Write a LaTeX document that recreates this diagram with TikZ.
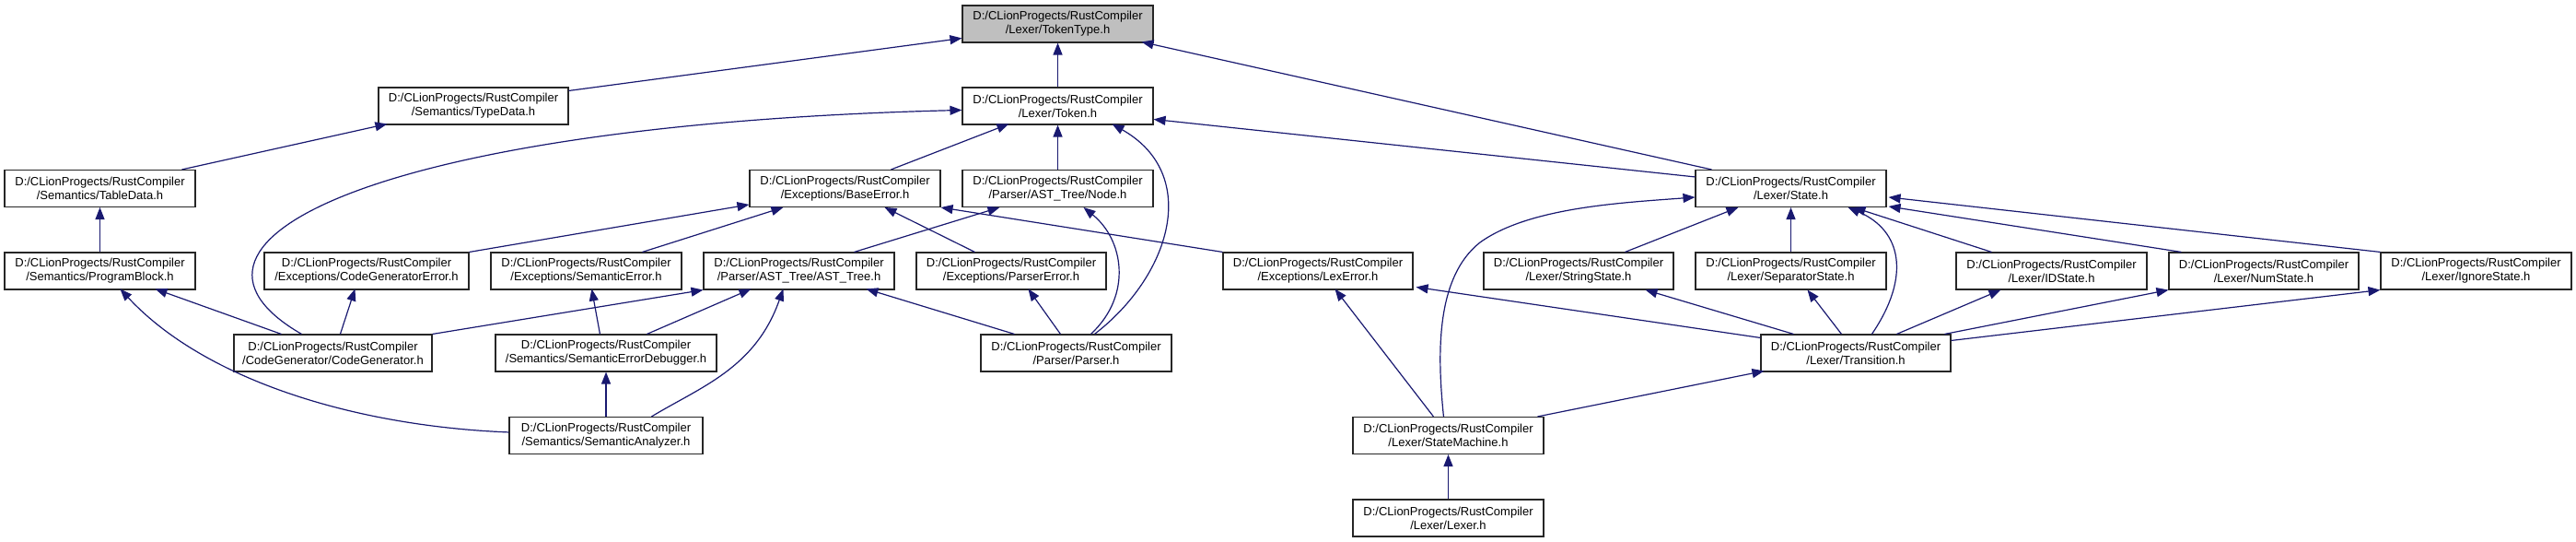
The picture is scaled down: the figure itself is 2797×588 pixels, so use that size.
\documentclass[tikz,border=0pt]{standalone}
\usepackage{fontspec}
\setmainfont{Liberation Sans}
\usetikzlibrary{arrows.meta,calc}
\definecolor{edgeblue}{HTML}{191970}
\definecolor{ttgrey}{HTML}{BFBFBF}
\begin{document}
\begin{tikzpicture}[x=1pt,y=-1pt,
  box/.style={draw=black!85, line width=1.1pt, fill=white, minimum height=40pt, inner sep=0pt, align=center, font=\fontsize{13}{15}\selectfont, text=black},
  edge/.style={draw=edgeblue, line width=1.2pt, -{Triangle[length=13pt,width=10pt]}}]
\useasboundingbox (0,0) rectangle (2797,588);
% nodes
\node[box, fill=ttgrey, minimum width=207pt] (tt) at (1148.5,26) {D:/CLionProgects/RustCompiler\\/Lexer/TokenType.h};
\node[box, minimum width=206pt] (typedata) at (514,115) {D:/CLionProgects/RustCompiler\\/Semantics/TypeData.h};
\node[box, minimum width=207pt] (token) at (1148.5,115) {D:/CLionProgects/RustCompiler\\/Lexer/Token.h};
\node[box, minimum width=207pt] (tabledata) at (108.5,204.5) {D:/CLionProgects/RustCompiler\\/Semantics/TableData.h};
\node[box, minimum width=207pt] (baseerror) at (917.5,204.5) {D:/CLionProgects/RustCompiler\\/Exceptions/BaseError.h};
\node[box, minimum width=207pt] (astnode) at (1148.5,204.5) {D:/CLionProgects/RustCompiler\\/Parser/AST\_Tree/Node.h};
\node[box, minimum width=207pt] (state) at (1944.5,204.5) {D:/CLionProgects/RustCompiler\\/Lexer/State.h};
\node[box, minimum width=207pt] (programblock) at (108.5,294) {D:/CLionProgects/RustCompiler\\/Semantics/ProgramBlock.h};
\node[box, minimum width=222pt] (cgerror) at (398,294) {D:/CLionProgects/RustCompiler\\/Exceptions/CodeGeneratorError.h};
\node[box, minimum width=207pt] (semerror) at (636.5,294) {D:/CLionProgects/RustCompiler\\/Exceptions/SemanticError.h};
\node[box, minimum width=207pt] (asttree) at (867.5,294) {D:/CLionProgects/RustCompiler\\/Parser/AST\_Tree/AST\_Tree.h};
\node[box, minimum width=206pt] (parsererror) at (1098,294) {D:/CLionProgects/RustCompiler\\/Exceptions/ParserError.h};
\node[box, minimum width=206pt] (lexerror) at (1431,294) {D:/CLionProgects/RustCompiler\\/Exceptions/LexError.h};
\node[box, minimum width=206pt] (stringstate) at (1714,294) {D:/CLionProgects/RustCompiler\\/Lexer/StringState.h};
\node[box, minimum width=207pt] (separatorstate) at (1944.5,294) {D:/CLionProgects/RustCompiler\\/Lexer/SeparatorState.h};
\node[box, minimum width=207pt] (idstate) at (2227.5,294) {D:/CLionProgects/RustCompiler\\/Lexer/IDState.h};
\node[box, minimum width=206pt] (numstate) at (2458,294) {D:/CLionProgects/RustCompiler\\/Lexer/NumState.h};
\node[box, minimum width=207pt] (ignorestate) at (2688.5,294) {D:/CLionProgects/RustCompiler\\/Lexer/IgnoreState.h};
\node[box, minimum width=215pt] (codegen) at (361.5,383) {D:/CLionProgects/RustCompiler\\/CodeGenerator/CodeGenerator.h};
\node[box, minimum width=240pt] (sedebugger) at (658,383) {D:/CLionProgects/RustCompiler\\/Semantics/SemanticErrorDebugger.h};
\node[box, minimum width=207pt] (parser) at (1168.5,383) {D:/CLionProgects/RustCompiler\\/Parser/Parser.h};
\node[box, minimum width=206pt] (transition) at (2015,383) {D:/CLionProgects/RustCompiler\\/Lexer/Transition.h};
\node[box, minimum width=210pt] (semanalyzer) at (658,472.5) {D:/CLionProgects/RustCompiler\\/Semantics/SemanticAnalyzer.h};
\node[box, minimum width=207pt] (statemachine) at (1572.5,472.5) {D:/CLionProgects/RustCompiler\\/Lexer/StateMachine.h};
\node[box, minimum width=207pt] (lexer) at (1572.5,562) {D:/CLionProgects/RustCompiler\\/Lexer/Lexer.h};
\coordinate (smbend) at (1607,263);
% edges
\draw[edge] ($(typedata.north east)+(0,4)$) -- ($(tt.north west)+(0,36)$);
\draw[edge] (token.north) -- (tt.south);
\draw[edge] ($(state.north west)+(18,0)$) -- ($(tt.north west)+(195,40)$);
\draw[edge] ($(tabledata.north west)+(193,0)$) -- ($(typedata.north west)+(10,40)$);
\draw[edge] ($(codegen.north west)+(74,0)$) .. controls (150,260) and (420,135) .. ($(token.north west)+(0,25)$);
\draw[edge] ($(state.north west)+(0,8)$) -- ($(token.north east)+(0,35)$);
\draw[edge] ($(baseerror.north west)+(154,0)$) -- ($(token.north west)+(51,40)$);
\draw[edge] (astnode.north) -- (token.south);
\draw[edge] ($(parser.north west)+(124,0)$) .. controls (1270,300) and (1305,190) .. ($(token.north west)+(163,40)$);
\draw[edge] ($(parser.north west)+(120,0)$) .. controls (1230,320) and (1220,260) .. ($(astnode.north west)+(132,41)$);
\draw[edge] (programblock.north) -- (tabledata.south);
\draw[edge] (cgerror.north east) -- ($(baseerror.north west)+(0,38)$);
\draw[edge] ($(semerror.north west)+(165,0)$) -- ($(baseerror.north west)+(37,41)$);
\draw[edge] ($(parsererror.north west)+(64,0)$) -- ($(baseerror.north west)+(147,41)$);
\draw[edge] (lexerror.north west) -- (baseerror.south east);
\draw[edge] ($(asttree.north west)+(164,0)$) -- ($(astnode.north west)+(41,41)$);
\draw[edge] ($(codegen.north west)+(52,0)$) -- ($(programblock.north west)+(164,40)$);
\draw[edge] ($(codegen.north west)+(116,0)$) -- ($(cgerror.north west)+(99,40)$);
\draw[edge] (codegen.north east) -- (asttree.south west);
\draw[edge] ($(semanalyzer.north west)+(0,17)$) .. controls (380,462) and (220,410) .. ($(programblock.north west)+(126,40)$);
\draw[edge] ($(sedebugger.north west)+(114,0)$) -- ($(semerror.north west)+(110,40)$);
\draw[edge] ($(sedebugger.north west)+(165,0)$) -- ($(asttree.north west)+(52,40)$);
\draw[edge] (semanalyzer.north) -- (sedebugger.south);
\draw[edge] ($(semanalyzer.north west)+(155,0)$) .. controls (760,420) and (820,400) .. ($(asttree.north west)+(87,40)$);
\draw[edge] ($(parser.north west)+(37,0)$) -- ($(asttree.north west)+(177,40)$);
\draw[edge] ($(parser.north west)+(87,0)$) -- ($(parsererror.north west)+(122,40)$);
\draw[edge] ($(statemachine.north west)+(99,0)$) .. controls (1560,380) and (1560,300) .. (smbend) .. controls (1660,225) and (1760,220) .. ($(state.north west)+(0,30)$);
\draw[edge] ($(statemachine.north west)+(88,0)$) -- ($(lexerror.north west)+(122,40)$);
\draw[edge] ($(statemachine.north west)+(201,0)$) -- ($(transition.north west)+(4,40)$);
\draw[edge] (lexer.north) -- (statemachine.south);
\draw[edge] ($(stringstate.north west)+(154,0)$) -- ($(state.north west)+(47,41)$);
\draw[edge] (separatorstate.north) -- (state.south);
\draw[edge] ($(idstate.north west)+(39,0)$) -- ($(state.north west)+(172,41)$);
\draw[edge] ($(numstate.north west)+(14,0)$) -- ($(state.north east)+(2,40)$);
\draw[edge] (ignorestate.north west) -- ($(state.north east)+(2,30)$);
\draw[edge] ($(transition.north west)+(121,0)$) .. controls (2075,300) and (2065,250) .. ($(state.north west)+(166,41)$);
\draw[edge] ($(transition.north west)+(0,4)$) -- ($(lexerror.north east)+(3,38)$);
\draw[edge] ($(transition.north west)+(36,0)$) -- ($(stringstate.north west)+(176,41)$);
\draw[edge] ($(transition.north west)+(88,0)$) -- ($(separatorstate.north west)+(122,41)$);
\draw[edge] ($(transition.north west)+(148,0)$) -- ($(idstate.north west)+(49,41)$);
\draw[edge] ($(transition.north west)+(200,0)$) -- (numstate.south west);
\draw[edge] ($(transition.north east)+(0,7)$) -- (ignorestate.south west);
\end{tikzpicture}
\end{document}
